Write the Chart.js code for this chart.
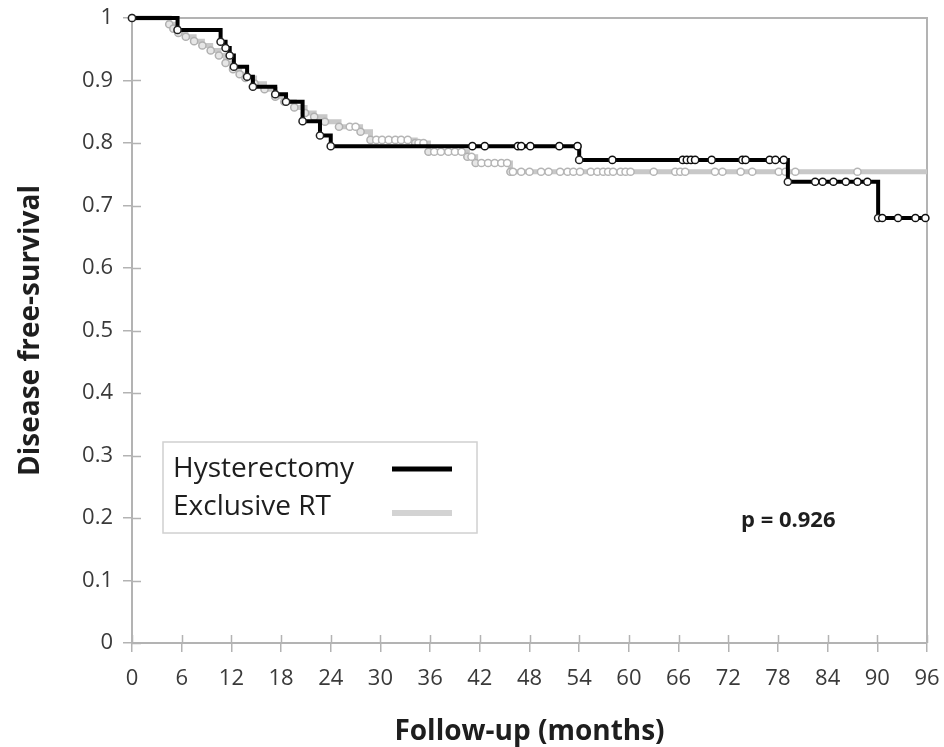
<!DOCTYPE html>
<html>
<head>
<meta charset="utf-8">
<script src="https://cdn.jsdelivr.net/npm/chart.js@4.4.1/dist/chart.umd.min.js"></script>
<style>
html,body{margin:0;padding:0;background:#fff;}
#wrap{width:944px;height:747px;position:relative;}
</style>
</head>
<body>
<div id="wrap"><canvas id="c" width="944" height="747"></canvas></div>
<script>
// ---- Data ----
const seriesNames = ["Hysterectomy", "Exclusive RT"];

// Hysterectomy: Kaplan-Meier step points (time in months, survival)
const hystTimes    = [0, 5.5, 10.7, 11.3, 11.8, 12.3, 13.9, 14.6, 17.3, 18.6, 20.6, 22.7, 24.0, 54.0, 79.2, 90.1, 96];
const hystSurvival = [1, 0.981, 0.962, 0.952, 0.940, 0.922, 0.906, 0.890, 0.878, 0.866, 0.835, 0.812, 0.795, 0.773, 0.738, 0.680, 0.680];
// Hysterectomy censored observations
const hystCensorTimes    = [41.1, 42.6, 46.6, 47.0, 48.1, 51.6, 53.8,
                            58.0, 66.5, 67.0, 67.5, 68.0, 70.0, 73.7, 74.1, 77.0, 77.7, 78.7,
                            82.5, 83.4, 84.7, 86.2, 87.6, 88.8,
                            90.6, 92.5, 94.6, 95.8];
const hystCensorSurvival = [0.795, 0.795, 0.795, 0.795, 0.795, 0.795, 0.795,
                            0.773, 0.773, 0.773, 0.773, 0.773, 0.773, 0.773, 0.773, 0.773, 0.773, 0.773,
                            0.738, 0.738, 0.738, 0.738, 0.738, 0.738,
                            0.680, 0.680, 0.680, 0.680];

// Exclusive RT: Kaplan-Meier step points
const rtTimes    = [0, 4.5, 5.0, 5.6, 6.5, 7.5, 8.5, 9.5, 10.5, 11.3, 12.2, 13.0, 13.7, 14.8, 16.0, 17.3, 18.4, 19.6, 20.9, 22.0, 23.3, 25.0, 27.6, 28.8, 34.2, 35.8, 40.5, 41.5, 45.7, 96];
const rtSurvival = [1, 0.990, 0.983, 0.976, 0.970, 0.963, 0.956, 0.948, 0.940, 0.928, 0.918, 0.910, 0.904, 0.895, 0.886, 0.874, 0.866, 0.857, 0.848, 0.842, 0.834, 0.826, 0.818, 0.805, 0.800, 0.786, 0.778, 0.768, 0.754, 0.754];
// Exclusive RT censored observations
const rtCensorTimes    = [26.3, 27.0, 29.5, 30.2, 31.0, 31.8, 32.5, 33.3, 34.6, 35.2,
                          36.5, 37.3, 38.2, 39.0, 39.8, 41.0, 42.2, 43.0, 43.8, 44.6, 45.3,
                          46.0, 47.0, 48.0, 49.4, 50.3, 51.7, 52.6, 53.3, 54.1, 55.4, 56.2, 56.9, 57.5, 58.1, 59.0, 59.6, 60.2,
                          63.0, 65.6, 66.2, 66.8, 70.4, 71.3, 73.5, 74.9, 78.1, 78.9, 80.1, 87.6];
const rtCensorSurvival = [0.826, 0.826, 0.805, 0.805, 0.805, 0.805, 0.805, 0.805, 0.800, 0.800,
                          0.786, 0.786, 0.786, 0.786, 0.786, 0.778, 0.768, 0.768, 0.768, 0.768, 0.768,
                          0.754, 0.754, 0.754, 0.754, 0.754, 0.754, 0.754, 0.754, 0.754, 0.754, 0.754, 0.754, 0.754, 0.754, 0.754, 0.754, 0.754,
                          0.754, 0.754, 0.754, 0.754, 0.754, 0.754, 0.754, 0.754, 0.754, 0.754, 0.754, 0.754];

// Axis tick labels
const xTickLabels = ["0","6","12","18","24","30","36","42","48","54","60","66","72","78","84","90","96"];
const yTickLabels = ["0","0.1","0.2","0.3","0.4","0.5","0.6","0.7","0.8","0.9","1"];
const xTitle = "Follow-up (months)";
const yTitle = "Disease free-survival";
const pValueText = "p = 0.926";

// ---- Build chart ----
const toPts = (xs, ys) => xs.map((x, i) => ({x: x, y: ys[i]}));
const AXIS_COLOR = '#b3b3b3';
const FONT = "'Open Sans', 'Noto Sans', sans-serif";

const framePlugin = {
  id: 'frame',
  beforeDatasetsDraw(chart) {
    const {ctx, chartArea: a, scales} = chart;
    ctx.save();
    ctx.strokeStyle = AXIS_COLOR;
    ctx.lineWidth = 2;
    ctx.beginPath();
    ctx.moveTo(a.left, a.top);
    ctx.lineTo(a.right, a.top);
    ctx.lineTo(a.right, a.bottom);
    ctx.stroke();
    ctx.lineWidth = 1.5;
    ctx.beginPath();
    scales.y.ticks.forEach(t => {
      const py = Math.round(scales.y.getPixelForValue(t.value)) + 0.5;
      ctx.moveTo(a.left, py); ctx.lineTo(a.left + 9, py);
    });
    scales.x.ticks.forEach(t => {
      const px = Math.round(scales.x.getPixelForValue(t.value)) + 0.5;
      ctx.moveTo(px, a.bottom); ctx.lineTo(px, a.bottom - 8);
    });
    ctx.stroke();
    ctx.restore();
  },
  afterDraw(chart) {
    const {ctx, chartArea: a} = chart;
    ctx.save();
    const lx = a.left + 31, ly = a.top + 424, lw = 314, lh = 91;
    ctx.strokeStyle = '#d0d0d0';
    ctx.lineWidth = 1.5;
    ctx.strokeRect(lx, ly, lw, lh);
    ctx.fillStyle = '#1e1e1e';
    ctx.font = "28px " + FONT;
    ctx.textBaseline = 'middle';
    ctx.textAlign = 'left';
    ctx.fillText(seriesNames[0], lx + 10, ly + 27);
    ctx.fillText(seriesNames[1], lx + 10, ly + 65);
    ctx.lineCap = 'butt';
    ctx.strokeStyle = '#000';
    ctx.lineWidth = 5;
    ctx.beginPath(); ctx.moveTo(lx + 229, ly + 27); ctx.lineTo(lx + 289, ly + 27); ctx.stroke();
    ctx.strokeStyle = '#d3d3d3';
    ctx.lineWidth = 6;
    ctx.beginPath(); ctx.moveTo(lx + 229, ly + 71); ctx.lineTo(lx + 289, ly + 71); ctx.stroke();
    ctx.fillStyle = '#1e1e1e';
    ctx.font = "bold 22px " + FONT;
    ctx.fillText(pValueText, a.left + 609, a.top + 503);
    ctx.restore();
  }
};

new Chart(document.getElementById('c'), {
  type: 'line',
  data: {
    datasets: [
      {
        label: seriesNames[0] + ' censored',
        type: 'scatter',
        data: toPts(hystCensorTimes, hystCensorSurvival),
        pointRadius: 3.6,
        pointBackgroundColor: '#ffffff',
        pointBorderColor: '#111111',
        pointBorderWidth: 1.5,
        showLine: false,
        clip: false,
        order: 0
      },
      {
        label: seriesNames[0],
        data: toPts(hystTimes, hystSurvival),
        stepped: true,
        borderColor: '#000000',
        borderWidth: 4,
        pointRadius: ctx => ctx.dataIndex === hystTimes.length - 1 ? 0 : 3.6,
        pointBackgroundColor: '#ffffff',
        pointBorderColor: '#222222',
        pointBorderWidth: 1.5,
        fill: false,
        clip: false,
        order: 1
      },
      {
        label: seriesNames[1] + ' censored',
        type: 'scatter',
        data: toPts(rtCensorTimes, rtCensorSurvival),
        pointRadius: 3.6,
        pointBackgroundColor: '#ffffff',
        pointBorderColor: '#b5b5b5',
        pointBorderWidth: 1.5,
        showLine: false,
        clip: false,
        order: 2
      },
      {
        label: seriesNames[1],
        data: toPts(rtTimes, rtSurvival),
        stepped: true,
        borderColor: '#c8c8c8',
        borderWidth: 5,
        pointRadius: ctx => ctx.dataIndex === rtTimes.length - 1 ? 0 : 3.6,
        pointBackgroundColor: '#e6e6e6',
        pointBorderColor: '#b0b0b0',
        pointBorderWidth: 1.5,
        fill: false,
        clip: false,
        order: 3
      }
    ]
  },
  options: {
    responsive: false,
    animation: false,
    devicePixelRatio: 1,
    layout: {padding: {left: 0, right: 17, top: 18, bottom: 0}},
    plugins: {legend: {display: false}, tooltip: {enabled: false}},
    scales: {
      x: {
        type: 'linear',
        min: 0, max: 96,
        afterFit: s => { s.height = 104; s.paddingLeft = 0; s.paddingRight = 0; },
        ticks: {
          stepSize: 6,
          autoSkip: false,
          maxRotation: 0,
          padding: 14,
          color: '#3a3a3a',
          font: {family: FONT, size: 22},
          callback: v => xTickLabels[Math.round(v / 6)]
        },
        grid: {drawOnChartArea: false, drawTicks: true, tickLength: 9, color: AXIS_COLOR, lineWidth: 1.5},
        border: {display: true, color: AXIS_COLOR, width: 2},
        title: {display: true, text: xTitle, color: '#1e1e1e', font: {family: FONT, size: 28, weight: 'bold'}, padding: {top: -2, bottom: -2}}
      },
      y: {
        type: 'linear',
        min: 0, max: 1,
        afterFit: s => { s.width = 132; s.paddingTop = 0; s.paddingBottom = 0; },
        ticks: {
          stepSize: 0.1,
          autoSkip: false,
          padding: 10,
          color: '#3a3a3a',
          font: {family: FONT, size: 22},
          callback: v => yTickLabels[Math.round(v * 10)]
        },
        grid: {drawOnChartArea: false, drawTicks: true, tickLength: 9, color: AXIS_COLOR, lineWidth: 1.5},
        border: {display: true, color: AXIS_COLOR, width: 2},
        title: {display: true, text: yTitle, color: '#1e1e1e', font: {family: FONT, size: 28, weight: 'bold'}, padding: {top: 14, bottom: 14}}
      }
    }
  },
  plugins: [framePlugin]
});
</script>
</body>
</html>
